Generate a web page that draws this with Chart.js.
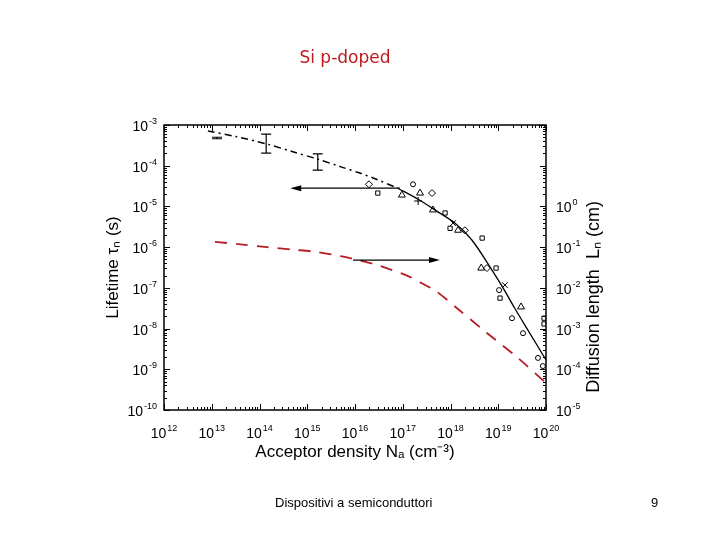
<!DOCTYPE html>
<html>
<head>
<meta charset="utf-8">
<script src="https://cdn.jsdelivr.net/npm/chart.js@4/dist/chart.umd.min.js"></script>
<style>
  body { margin: 0; background: #fff; }
  #wrap { position: relative; width: 720px; height: 540px; }
  #plot { position: absolute; left: 0; top: 0; }
  .slide-title { position: absolute; left: 0; width: 690px; top: 47px; text-align: center; font: 17px 'DejaVu Sans', sans-serif; color: #c0181f; }
  .footer { position: absolute; top: 495px; font: 13px 'Liberation Sans', Arial, sans-serif; color: #000; }
</style>
</head>
<body>
<div id="wrap">
  <canvas id="plot" width="720" height="540"></canvas>
  <div class="slide-title">Si p-doped</div>
  <div class="footer" style="left:275px">Dispositivi a semiconduttori</div>
  <div class="footer" style="left:651px">9</div>
</div>
<script>
// axis decades
const densityTicks = [1e12, 1e13, 1e14, 1e15, 1e16, 1e17, 1e18, 1e19, 1e20];
const lifetimeTicks = [1e-10, 1e-9, 1e-8, 1e-7, 1e-6, 1e-5, 1e-4, 1e-3];
const lengthTicks = [1e-5, 1e-4, 1e-3, 1e-2, 1e-1, 1e0, 1e1, 1e2];
const lengthLabelMax = 1e0;

// black dashed curve (theory, low doping)
const theoryN = [8.3e12, 3.2e13, 1.45e14, 5.0e14, 1.66e15, 4.9e15, 1.26e16, 2.4e16, 7.9e16];
const theoryTau = [7.1e-4, 5.2e-4, 3.4e-4, 2.2e-4, 1.45e-4, 9.5e-5, 6.6e-5, 5.0e-5, 2.8e-5];

// black solid fit
const fitN = [7.9e16, 2.1e17, 4.8e17, 1.23e18, 2.8e18, 6.8e18, 1.26e19, 2.2e19, 4.0e19, 1e20];
const fitTau = [2.8e-5, 1.5e-5, 8.1e-6, 3.9e-6, 1.5e-6, 3.2e-7, 1.0e-7, 3.2e-8, 1.0e-8, 1.7e-9];

// red dashed curve (diffusion length, read on the same grid)
const lengthN = [1.17e13, 4.0e13, 1.45e14, 5.0e14, 1.58e15, 5.0e15, 1.26e16, 3.2e16, 1.23e17, 2.5e17, 5.0e17, 1.35e18, 5.8e18, 2.45e19, 1e20];
const lengthTau = [1.35e-6, 1.17e-6, 1.0e-6, 8.7e-7, 7.6e-7, 6.0e-7, 4.7e-7, 3.5e-7, 2.0e-7, 1.3e-7, 8.3e-8, 3.2e-8, 7.8e-9, 2.0e-9, 4.6e-10];

// measured points
const diamondN = [1.96e16, 4.1e17, 2.0e18, 5.8e18];
const diamondTau = [3.5e-5, 2.13e-5, 2.6e-6, 3.06e-7];
const squareN = [3.0e16, 7.7e17, 9.8e17, 4.6e18, 9.0e18, 1.09e19, 9.1e19, 9.1e19];
const squareTau = [2.13e-5, 6.9e-6, 2.9e-6, 1.67e-6, 3.06e-7, 5.6e-8, 1.8e-8, 1.3e-8];
const triangleN = [9.6e16, 2.3e17, 4.3e17, 1.44e18, 4.4e18, 3.0e19];
const triangleTau = [1.9e-5, 2.13e-5, 8.2e-6, 2.6e-6, 3.06e-7, 3.4e-8];
const circleN = [1.64e17, 1.04e19, 1.94e19, 3.3e19, 6.8e19, 8.6e19];
const circleTau = [3.5e-5, 8.8e-8, 1.8e-8, 7.7e-9, 1.9e-9, 1.2e-9];
const plusN = [2.1e17];
const plusTau = [1.36e-5];
const crossN = [1.13e18, 1.38e19];
const crossTau = [3.9e-6, 1.17e-7];

// error bars on the low-doping data
const errN = [1.29e13, 1.38e14, 1.66e15];
const errLow = [4.6e-4, 2.04e-4, 7.8e-5];
const errHigh = [5.0e-4, 6.0e-4, 1.95e-4];

// arrows pointing to the relevant axis
const arrowFromN = [8.7e16, 9.1e15];
const arrowToN = [4.4e14, 6.0e17];
const arrowTau = [2.8e-5, 4.8e-7];

const fontFamily = "'Liberation Sans', Arial, sans-serif";
const titleFont = { family: fontFamily, size: 17 };

function exponentOf(value) {
  return String(Math.round(Math.log10(value)));
}

// "10" with a raised exponent; align is where (x) sits: 'center', 'right' or 'left'
function drawPower(ctx, value, x, y, align) {
  const exp = exponentOf(value);
  ctx.font = `14px ${fontFamily}`;
  const w1 = ctx.measureText('10').width;
  ctx.font = `9px ${fontFamily}`;
  const w2 = ctx.measureText(exp).width;
  const total = w1 + w2 + 1;
  let x0 = x;
  if (align === 'center') x0 = x - total / 2;
  if (align === 'right') x0 = x - total;
  ctx.textAlign = 'left';
  ctx.textBaseline = 'alphabetic';
  ctx.font = `14px ${fontFamily}`;
  ctx.fillText('10', x0, y + 5);
  ctx.font = `9px ${fontFamily}`;
  ctx.fillText(exp, x0 + w1 + 1, y - 2);
}

const frameTicks = {
  id: 'frameTicks',
  afterDraw(chart) {
    const { ctx, chartArea: a, scales } = chart;
    const x = scales.x, y = scales.y, y2 = scales.y2;
    ctx.save();
    ctx.strokeStyle = '#000';
    ctx.fillStyle = '#000';
    ctx.lineWidth = 1.5;
    ctx.strokeRect(a.left, a.top, a.right - a.left, a.bottom - a.top);
    ctx.lineWidth = 1;
    ctx.beginPath();
    densityTicks.forEach((d, i) => {
      for (let m = 1; m <= 9; m++) {
        if (m > 1 && i === densityTicks.length - 1) continue;
        const px = Math.round(x.getPixelForValue(d * m)) + 0.5;
        const len = m === 1 ? 6 : 3;
        ctx.moveTo(px, a.bottom); ctx.lineTo(px, a.bottom - len);
        ctx.moveTo(px, a.top); ctx.lineTo(px, a.top + len);
      }
    });
    lifetimeTicks.forEach((d, i) => {
      for (let m = 1; m <= 9; m++) {
        if (m > 1 && i === lifetimeTicks.length - 1) continue;
        const py = Math.round(y.getPixelForValue(d * m)) + 0.5;
        const len = m === 1 ? 6 : 3;
        ctx.moveTo(a.left, py); ctx.lineTo(a.left + len, py);
      }
    });
    lengthTicks.forEach((d, i) => {
      for (let m = 1; m <= 9; m++) {
        if (m > 1 && i === lengthTicks.length - 1) continue;
        const py = Math.round(y2.getPixelForValue(d * m)) + 0.5;
        const len = m === 1 ? 6 : 3;
        ctx.moveTo(a.right, py); ctx.lineTo(a.right - len, py);
      }
    });
    ctx.stroke();

    // tick labels
    densityTicks.forEach((d) => drawPower(ctx, d, x.getPixelForValue(d), a.bottom + 23, 'center'));
    lifetimeTicks.forEach((d) => drawPower(ctx, d, a.left - 7, y.getPixelForValue(d) + 1, 'right'));
    lengthTicks.filter((d) => d <= lengthLabelMax)
      .forEach((d) => drawPower(ctx, d, a.right + 10, y2.getPixelForValue(d) + 1, 'left'));

    // error bars
    ctx.lineWidth = 1.2;
    ctx.beginPath();
    errN.forEach((n, i) => {
      const px = x.getPixelForValue(n);
      const lo = y.getPixelForValue(errLow[i]);
      const hi = y.getPixelForValue(errHigh[i]);
      ctx.moveTo(px, lo); ctx.lineTo(px, hi);
      ctx.moveTo(px - 5, lo); ctx.lineTo(px + 5, lo);
      ctx.moveTo(px - 5, hi); ctx.lineTo(px + 5, hi);
    });
    ctx.stroke();

    // arrows
    arrowTau.forEach((t, i) => {
      const py = y.getPixelForValue(t);
      const x0 = x.getPixelForValue(arrowFromN[i]);
      const x1 = x.getPixelForValue(arrowToN[i]);
      const dir = Math.sign(x1 - x0);
      ctx.beginPath();
      ctx.moveTo(x0, py); ctx.lineTo(x1 - dir * 6, py);
      ctx.stroke();
      ctx.beginPath();
      ctx.moveTo(x1, py);
      ctx.lineTo(x1 - dir * 11, py - 3);
      ctx.lineTo(x1 - dir * 11, py + 3);
      ctx.closePath();
      ctx.fill();
    });

    // right axis title, reading bottom to top
    ctx.translate(594, 297);
    ctx.rotate(-Math.PI / 2);
    ctx.font = `18px ${fontFamily}`;
    ctx.textAlign = 'center';
    ctx.textBaseline = 'middle';
    ctx.fillText('Diffusion length  Lₙ (cm)', 0, 0);
    ctx.restore();
  }
};

const markerStyle = (style, radius) => ({
  type: 'scatter',
  pointStyle: style,
  pointRadius: radius,
  borderColor: '#000',
  backgroundColor: 'rgba(0,0,0,0)',
  borderWidth: 1,
  showLine: false
});

new Chart(document.getElementById('plot'), {
  type: 'scatter',
  data: {
    datasets: [
      { type: 'line', data: toPoints(theoryN, theoryTau), borderColor: '#000', borderWidth: 1.5, borderDash: [7, 4, 2, 4], pointRadius: 0, tension: 0.3 },
      { type: 'line', data: toPoints(fitN, fitTau), borderColor: '#000', borderWidth: 1.3, pointRadius: 0, tension: 0.3 },
      { type: 'line', data: toPoints(lengthN, lengthTau), borderColor: '#b51d26', borderWidth: 1.8, borderDash: [12, 9], pointRadius: 0, tension: 0.3 },
      { ...markerStyle('rectRot', 3.5), data: toPoints(diamondN, diamondTau) },
      { ...markerStyle('rect', 3), data: toPoints(squareN, squareTau) },
      { ...markerStyle('triangle', 4), data: toPoints(triangleN, triangleTau) },
      { ...markerStyle('circle', 2.5), data: toPoints(circleN, circleTau) },
      { ...markerStyle('cross', 4), data: toPoints(plusN, plusTau) },
      { ...markerStyle('crossRot', 4), data: toPoints(crossN, crossTau) }
    ]
  },
  options: {
    responsive: false,
    animation: false,
    layout: { padding: { top: 125, right: 0, bottom: 0, left: 0 } },
    plugins: { legend: { display: false }, tooltip: { enabled: false }, title: { display: false } },
    scales: {
      x: {
        type: 'logarithmic',
        position: 'bottom',
        min: 1e12,
        max: 1e20,
        afterFit: (s) => { s.height = 130; },
        ticks: { display: false },
        grid: { display: false, drawTicks: false },
        border: { display: false },
        title: { display: true, text: 'Acceptor density Nₐ (cm⁻³)', font: titleFont, color: '#000', padding: { top: 0, bottom: 77 } }
      },
      y: {
        type: 'logarithmic',
        position: 'left',
        min: 1e-10,
        max: 1e-3,
        afterFit: (s) => { s.width = 164; },
        ticks: { display: false },
        grid: { display: false, drawTicks: false },
        border: { display: false },
        title: { display: true, text: 'Lifetime τₙ (s)', font: titleFont, color: '#000', padding: { top: 103, bottom: 0 } }
      },
      y2: {
        type: 'logarithmic',
        position: 'right',
        min: 1e-5,
        max: 1e2,
        afterFit: (s) => { s.width = 174; },
        ticks: { display: false },
        grid: { display: false, drawTicks: false },
        border: { display: false }
      }
    }
  },
  plugins: [frameTicks]
});

function toPoints(xs, ys) {
  return xs.map((v, i) => ({ x: v, y: ys[i] }));
}
</script>
</body>
</html>
